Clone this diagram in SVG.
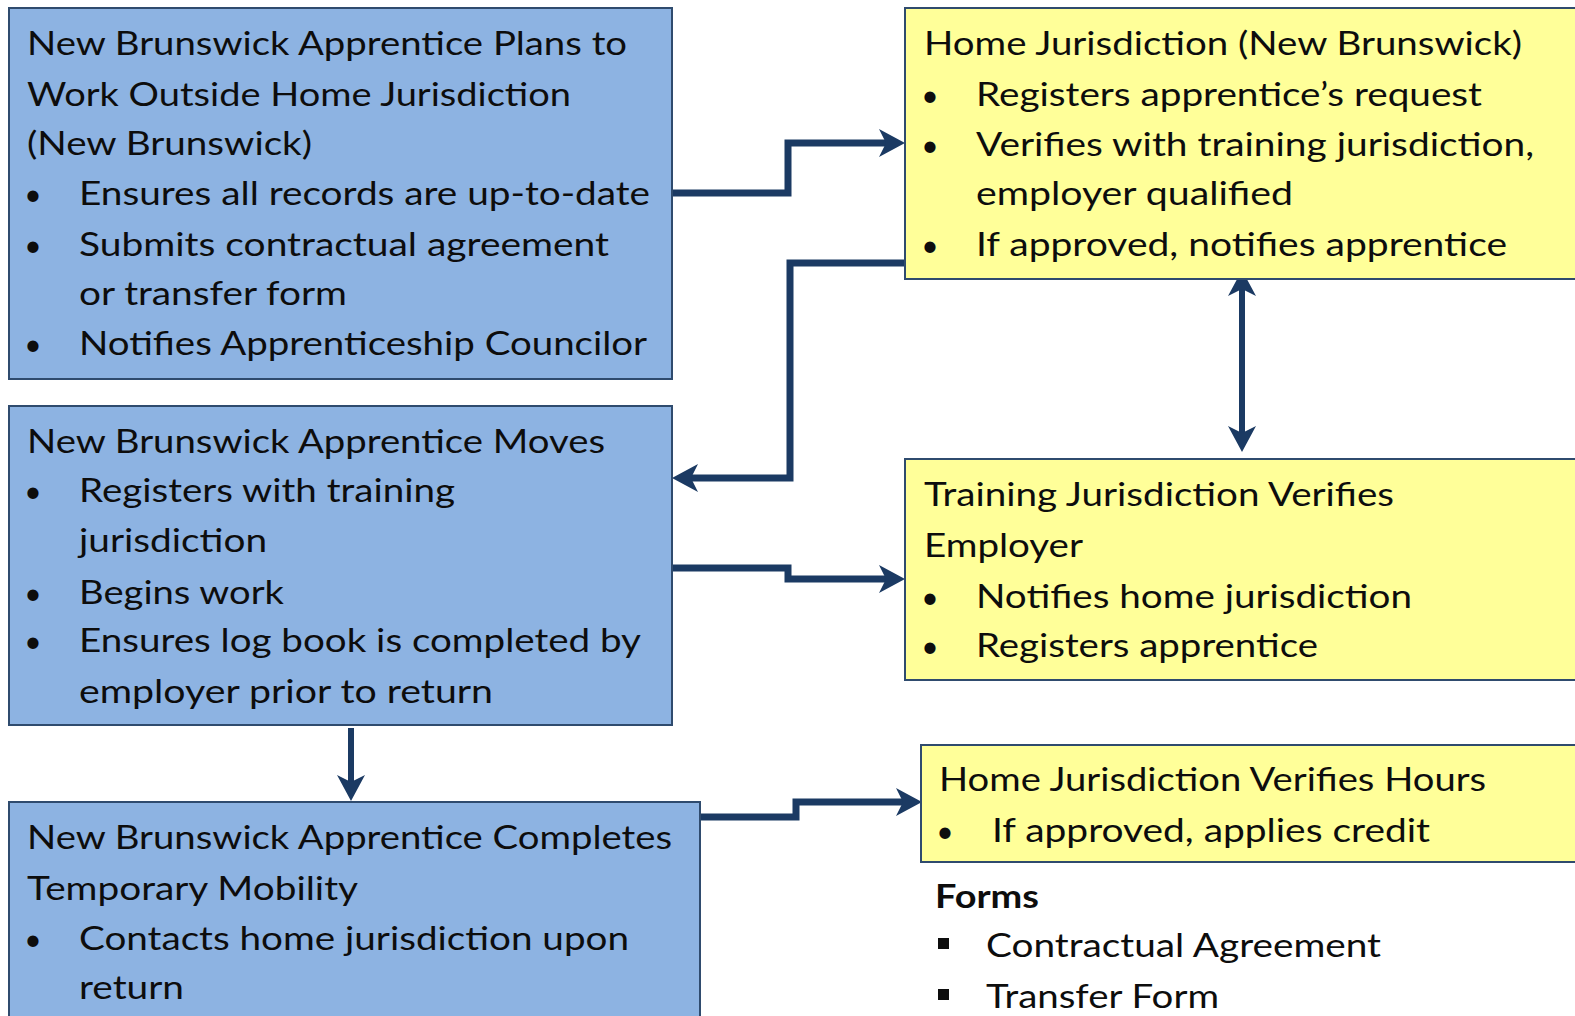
<svg xmlns="http://www.w3.org/2000/svg" width="1575" height="1016" viewBox="0 0 1575 1016">
<style>
.blue{fill:#8DB3E2;stroke:#2F4B6E;stroke-width:2}
.yellow{fill:#FFFF99;stroke:#2F4B6E;stroke-width:2}
.t{font-family:Lato,"Liberation Sans",sans-serif;font-size:32px;fill:#0D0D0D}
.b{font-family:Lato,"Liberation Sans",sans-serif;font-size:30px;fill:#0D0D0D;text-anchor:middle}
.bold{font-weight:bold}
.conn{fill:none;stroke:#1B3A63;stroke-width:7}
.thin{stroke-width:6}
.ah{fill:#1B3A63}
</style>
<defs>
<marker id="ah1" markerUnits="userSpaceOnUse" viewBox="0 0 26 28" markerWidth="26" markerHeight="28" refX="10" refY="14" orient="auto-start-reverse">
<path class="ah" d="M0,0 L26,14 L0,28 L7,14 z"/>
</marker>
</defs>

<g id="connectors">
<path class="conn" d="M672,193 H788 V143 H889" marker-end="url(#ah1)"/>
<path class="conn" d="M905,263 H790 V478 H688" marker-end="url(#ah1)"/>
<path class="conn thin" d="M1242,286 V436" marker-start="url(#ah1)" marker-end="url(#ah1)"/>
<path class="conn" d="M672,568 H788 V579 H889" marker-end="url(#ah1)"/>
<path class="conn thin" d="M351,728 V785" marker-end="url(#ah1)"/>
<path class="conn" d="M700,817 H796 V802 H906" marker-end="url(#ah1)"/>
</g>

<g id="node-plans">
<rect class="blue" x="9" y="8" width="663" height="371"/>
<text class="t" x="27" y="55" textLength="600" lengthAdjust="spacingAndGlyphs">New Brunswick Apprentice Plans to</text>
<text class="t" x="27" y="106" textLength="544" lengthAdjust="spacingAndGlyphs">Work Outside Home Jurisdiction</text>
<text class="t" x="27" y="155" textLength="285" lengthAdjust="spacingAndGlyphs">(New Brunswick)</text>
<text class="b" x="33" y="205">•</text>
<text class="t" x="79" y="205" textLength="571" lengthAdjust="spacingAndGlyphs">Ensures all records are up-to-date</text>
<text class="b" x="33" y="256">•</text>
<text class="t" x="79" y="256" textLength="530" lengthAdjust="spacingAndGlyphs">Submits contractual agreement</text>
<text class="t" x="79" y="305" textLength="268" lengthAdjust="spacingAndGlyphs">or transfer form</text>
<text class="b" x="33" y="355">•</text>
<text class="t" x="79" y="355" textLength="568" lengthAdjust="spacingAndGlyphs">Notifies Apprenticeship Councilor</text>
</g>

<g id="node-moves">
<rect class="blue" x="9" y="406" width="663" height="319"/>
<text class="t" x="27" y="453" textLength="578" lengthAdjust="spacingAndGlyphs">New Brunswick Apprentice Moves</text>
<text class="b" x="33" y="502">•</text>
<text class="t" x="79" y="502" textLength="376" lengthAdjust="spacingAndGlyphs">Registers with training</text>
<text class="t" x="79" y="552" textLength="188" lengthAdjust="spacingAndGlyphs">jurisdiction</text>
<text class="b" x="33" y="604">•</text>
<text class="t" x="79" y="604" textLength="205" lengthAdjust="spacingAndGlyphs">Begins work</text>
<text class="b" x="33" y="652">•</text>
<text class="t" x="79" y="652" textLength="562" lengthAdjust="spacingAndGlyphs">Ensures log book is completed by</text>
<text class="t" x="79" y="703" textLength="414" lengthAdjust="spacingAndGlyphs">employer prior to return</text>
</g>

<g id="node-completes">
<rect class="blue" x="9" y="802" width="691" height="230"/>
<text class="t" x="27" y="849" textLength="645" lengthAdjust="spacingAndGlyphs">New Brunswick Apprentice Completes</text>
<text class="t" x="27" y="900" textLength="331" lengthAdjust="spacingAndGlyphs">Temporary Mobility</text>
<text class="b" x="33" y="950">•</text>
<text class="t" x="79" y="950" textLength="550" lengthAdjust="spacingAndGlyphs">Contacts home jurisdiction upon</text>
<text class="t" x="79" y="999" textLength="105" lengthAdjust="spacingAndGlyphs">return</text>
</g>

<g id="node-home">
<rect class="yellow" x="905" y="8" width="690" height="271"/>
<text class="t" x="924" y="55" textLength="598" lengthAdjust="spacingAndGlyphs">Home Jurisdiction (New Brunswick)</text>
<text class="b" x="930" y="106">•</text>
<text class="t" x="976" y="106" textLength="506" lengthAdjust="spacingAndGlyphs">Registers apprentice’s request</text>
<text class="b" x="930" y="156">•</text>
<text class="t" x="976" y="156" textLength="558" lengthAdjust="spacingAndGlyphs">Verifies with training jurisdiction,</text>
<text class="t" x="976" y="205" textLength="317" lengthAdjust="spacingAndGlyphs">employer qualified</text>
<text class="b" x="930" y="256">•</text>
<text class="t" x="976" y="256" textLength="531" lengthAdjust="spacingAndGlyphs">If approved, notifies apprentice</text>
</g>

<g id="node-training">
<rect class="yellow" x="905" y="459" width="690" height="221"/>
<text class="t" x="924" y="506" textLength="470" lengthAdjust="spacingAndGlyphs">Training Jurisdiction Verifies</text>
<text class="t" x="924" y="557" textLength="159" lengthAdjust="spacingAndGlyphs">Employer</text>
<text class="b" x="930" y="608">•</text>
<text class="t" x="976" y="608" textLength="436" lengthAdjust="spacingAndGlyphs">Notifies home jurisdiction</text>
<text class="b" x="930" y="657">•</text>
<text class="t" x="976" y="657" textLength="342" lengthAdjust="spacingAndGlyphs">Registers apprentice</text>
</g>

<g id="node-hours">
<rect class="yellow" x="921" y="745" width="674" height="117"/>
<text class="t" x="939" y="791" textLength="547" lengthAdjust="spacingAndGlyphs">Home Jurisdiction Verifies Hours</text>
<text class="b" x="945" y="842">•</text>
<text class="t" x="992" y="842" textLength="438" lengthAdjust="spacingAndGlyphs">If approved, applies credit</text>
</g>

<g id="forms">
<text class="t bold" x="935" y="908" textLength="104" lengthAdjust="spacingAndGlyphs">Forms</text>
<rect x="938" y="938" width="11" height="11" fill="#0D0D0D"/>
<text class="t" x="986" y="957" textLength="395" lengthAdjust="spacingAndGlyphs">Contractual Agreement</text>
<rect x="938" y="989" width="11" height="11" fill="#0D0D0D"/>
<text class="t" x="986" y="1008" textLength="233" lengthAdjust="spacingAndGlyphs">Transfer Form</text>
</g>
</svg>
